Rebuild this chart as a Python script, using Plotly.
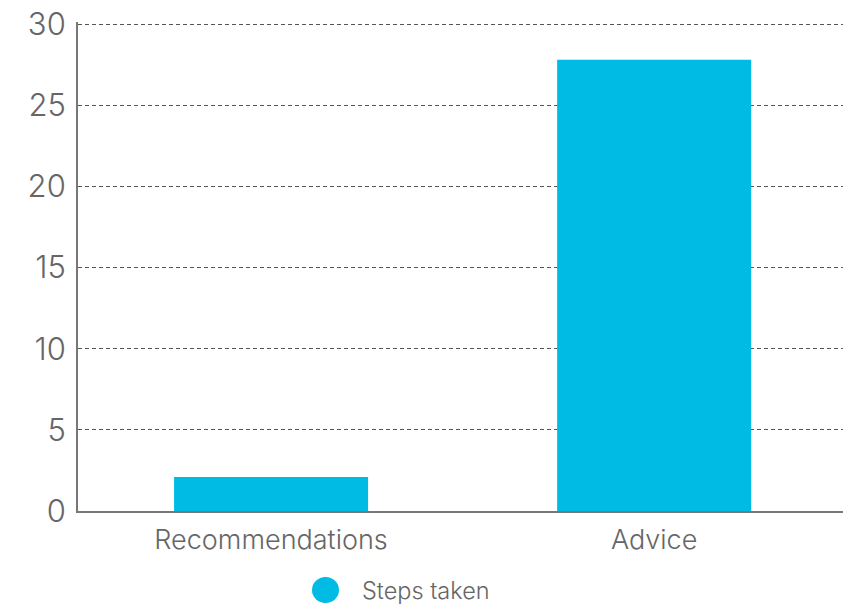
import plotly.graph_objects as go

categories = ["Recommendations", "Advice"]
steps_taken = [2.1, 27.8]
y_ticks = [0, 5, 10, 15, 20, 25, 30]
series_name = "Steps taken"

bar_color = "#00BBE3"
text_color = "#666666"
font_family = "Inter, Lato, 'Open Sans', sans-serif"

fig = go.Figure()
fig.add_trace(go.Bar(
    x=categories,
    y=steps_taken,
    name=series_name,
    marker=dict(color=bar_color, line=dict(width=0)),
    showlegend=False,
))

fig.update_layout(
    width=843,
    height=605,
    margin=dict(l=78, r=0, t=22, b=94),
    plot_bgcolor="white",
    paper_bgcolor="white",
    bargap=0.4935,
    font=dict(family=font_family, color=text_color, size=27, weight=300),
    xaxis=dict(
        showline=True, linecolor="#777777", linewidth=2,
        showgrid=False, ticks="", tickfont=dict(size=27, weight=300),
        ticklabelstandoff=4,
        range=[-0.504, 1.493],
    ),
    yaxis=dict(
        range=[0, 30.123], tickvals=y_ticks, showline=True, linecolor="#777777",
        linewidth=2, showgrid=True, gridcolor="#555555", griddash="4px,3px",
        gridwidth=1, zeroline=False, ticks="", ticklabelstandoff=4,
        tickfont=dict(size=31, weight=300),
    ),
)

# Legend: a filled circle beside the series name, below the axis
fig.add_shape(
    type="circle", xref="paper", yref="paper",
    x0=(312 - 78) / 765, x1=(339 - 78) / 765,
    y0=-(603 - 511) / 489, y1=-(577 - 511) / 489,
    fillcolor=bar_color, line=dict(width=0),
)
fig.add_annotation(
    text=series_name, xref="paper", yref="paper",
    x=(360 - 78) / 765, y=-(590 - 511) / 489,
    xanchor="left", yanchor="middle", showarrow=False,
    font=dict(size=23.5, color=text_color, weight=300),
)

fig.write_html("out.html")
